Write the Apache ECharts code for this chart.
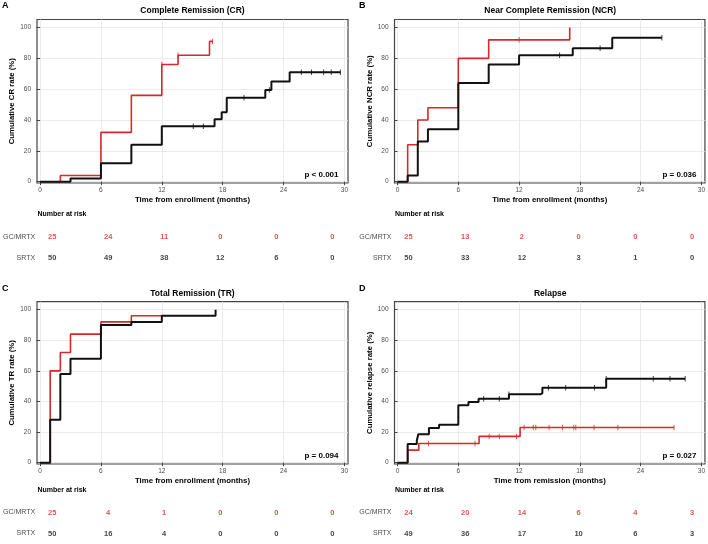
<!DOCTYPE html>
<html lang="en">
<head>
<meta charset="UTF-8">
<title>Cumulative remission / relapse</title>
<script src="https://cdn.jsdelivr.net/npm/echarts@6/dist/echarts.min.js"></script>
<style>
    * { margin: 0; padding: 0; }
    html, body { width: 708px; height: 544px; overflow: hidden; background: #fff; }
    #chart { width: 708px; height: 544px; }
</style>
</head>
<body>
<div id="chart"></div>
<script>
    const RED = '#d42a2a';
    const BLACK = '#111111';

    const xTicks = [0, 6, 12, 18, 24, 30];
    const yTicks = [0, 20, 40, 60, 80, 100];
    const groups = ['GC/MRTX', 'SRTX'];

    // A: complete remission, [months, %]
    const crRed = [[0, 0], [2, 4], [6, 32], [9, 56], [12, 76], [13.6, 82], [16.7, 91], [17, 91]];
    const crRedCens = [[12, 76], [13.6, 82], [17, 91]];
    const crBlack = [[0, 0], [3, 2], [6, 12], [9, 24], [12, 36], [17.2, 40.5], [17.9, 45], [18.4, 54.5],
        [22.2, 59.5], [22.8, 65], [24.6, 71], [29.6, 71]];
    const crBlackCens = [[15.1, 36], [16.1, 36], [20.1, 54.5], [22.6, 59.5], [25.75, 71], [26.75, 71],
        [27.95, 71], [28.7, 71], [29.6, 71]];
    const crRiskRed = [25, 24, 11, 0, 0, 0];
    const crRiskBlack = [50, 49, 38, 12, 6, 0];

    // B: near complete remission
    const ncrRed = [[0, 0], [1, 24], [2, 40], [3, 48], [6, 80], [9, 92], [17, 100]];
    const ncrRedCens = [[12, 92]];
    const ncrBlack = [[0, 0], [1, 4], [2, 26], [3, 34], [6, 64], [9, 76], [12, 82], [17.3, 86.5],
        [21.2, 93.3], [26.1, 93.3]];
    const ncrBlackCens = [[16, 82], [20, 86.5], [26.1, 93.3]];
    const ncrRiskRed = [25, 13, 2, 0, 0, 0];
    const ncrRiskBlack = [50, 33, 12, 3, 1, 0];

    // C: total remission
    const trRed = [[0, 0], [1, 60], [2, 72], [3, 84], [6, 92], [9, 96], [12, 96]];
    const trRedCens = [];
    const trBlack = [[0, 0], [1, 28], [2, 58], [3, 68], [6, 90], [9, 92], [12, 96], [17.3, 100]];
    const trBlackCens = [];
    const trRiskRed = [25, 4, 1, 0, 0, 0];
    const trRiskBlack = [50, 16, 4, 0, 0, 0];

    // D: relapse
    const relRed = [[0, 0], [1, 8.2], [2.1, 12.5], [8.05, 17.2], [12.1, 23], [27.3, 23]];
    const relRedCens = [[3.05, 12.5], [7.65, 12.5], [9.05, 17.2], [10.05, 17.2], [11.75, 17.2], [12.5, 23],
        [13.4, 23], [13.65, 23], [14.96, 23], [16.3, 23], [17.4, 23], [17.6, 23], [19.4, 23], [21.75, 23], [27.3, 23]];
    const relBlack = [[0, 0], [1, 12.2], [1.9, 14.3], [2.05, 18.6], [3.1, 22.7], [4.1, 24.8], [6, 37.5],
        [7, 39.7], [8, 41.8], [11, 44.7], [14.1, 45.5], [14.3, 49], [20.6, 54.8], [28.4, 54.8]];
    const relBlackCens = [[8.5, 41.8], [10.05, 41.8], [11, 44.7], [14.9, 49], [16.6, 49], [19.45, 49],
        [20.6, 54.8], [25.25, 54.8], [26.9, 54.8], [28.4, 54.8]];
    const relRiskRed = [24, 20, 14, 6, 4, 3];
    const relRiskBlack = [49, 36, 17, 10, 6, 3];

    const panels = [
        { letter: 'A', title: 'Complete Remission (CR)', yName: 'Cumulative CR rate (%)', xName: 'Time from enrollment (months)',
          p: 'p < 0.001', red: crRed, redCens: crRedCens, black: crBlack, blackCens: crBlackCens,
          riskRed: crRiskRed, riskBlack: crRiskBlack,
          left: 37, top: 19.5, width: 311, height: 163.5, tLeft: 51, tWidth: 281.3, tTop: 237, tHeight: 21.4, nameGap: 20 },
        { letter: 'B', title: 'Near Complete Remission (NCR)', yName: 'Cumulative NCR rate (%)', xName: 'Time from enrollment (months)',
          p: 'p = 0.036', red: ncrRed, redCens: ncrRedCens, black: ncrBlack, blackCens: ncrBlackCens,
          riskRed: ncrRiskRed, riskBlack: ncrRiskBlack,
          left: 394.5, top: 19.5, width: 311.5, height: 163.5, tLeft: 408.5, tWidth: 283.5, tTop: 237, tHeight: 21.4, nameGap: 19 },
        { letter: 'C', title: 'Total Remission (TR)', yName: 'Cumulative TR rate (%)', xName: 'Time from enrollment (months)',
          p: 'p = 0.094', red: trRed, redCens: trRedCens, black: trBlack, blackCens: trBlackCens,
          riskRed: trRiskRed, riskBlack: trRiskBlack,
          left: 37, top: 301.7, width: 311, height: 162.3, tLeft: 51, tWidth: 281.3, tTop: 512.5, tHeight: 21, nameGap: 20 },
        { letter: 'D', title: 'Relapse', yName: 'Cumulative relapse rate (%)', xName: 'Time from remission (months)',
          p: 'p = 0.027', red: relRed, redCens: relRedCens, black: relBlack, blackCens: relBlackCens,
          riskRed: relRiskRed, riskBlack: relRiskBlack,
          left: 394.5, top: 301.7, width: 311.5, height: 162.3, tLeft: 408.5, tWidth: 283.5, tTop: 512.5, tHeight: 21, nameGap: 19 }
    ];

    const font = 'Liberation Sans';
    let grid = [], xAxis = [], yAxis = [], series = [], graphic = [];

    function txt(text, x, y, size, align, color) {
        return {
            type: 'text', x: x, y: y, silent: true,
            style: {
                text: text, fill: color || '#000', font: 'bold ' + size + 'px "' + font + '"',
                align: align, textAlign: align, verticalAlign: 'middle', textVerticalAlign: 'middle'
            }
        };
    }

    panels.forEach((pn, i) => {
        let g = i * 2;
        // plot
        grid.push({ left: pn.left, top: pn.top, width: pn.width, height: pn.height,
            show: true, borderColor: '#444', borderWidth: 1.2, backgroundColor: '#fff' });
        xAxis.push({
            type: 'value', gridIndex: g, min: -0.3, max: 30.35,
            name: pn.xName, nameLocation: 'middle', nameGap: 13,
            nameTextStyle: { fontWeight: 'bold', fontSize: 7.8, color: '#000', fontFamily: font },
            axisLine: { show: false },
            axisTick: { show: true, length: 3.5, customValues: xTicks, lineStyle: { color: '#444', width: 1 } },
            axisLabel: { customValues: xTicks, margin: 3.5, fontSize: 6.5, color: '#4d4d4d', fontFamily: font },
            splitLine: { show: true, lineStyle: { color: '#e6e6e6', width: 0.8 } }
        });
        yAxis.push({
            type: 'value', gridIndex: g, min: -0.85, max: 105.2,
            name: pn.yName, nameLocation: 'middle', nameGap: pn.nameGap,
            nameTextStyle: { fontWeight: 'bold', fontSize: 7.8, color: '#000', fontFamily: font },
            axisLine: { show: false },
            axisTick: { show: true, length: 3.5, customValues: yTicks, lineStyle: { color: '#444', width: 1 } },
            axisLabel: { customValues: yTicks, margin: 6, fontSize: 6.5, color: '#4d4d4d', fontFamily: font },
            splitLine: { show: true, lineStyle: { color: '#e6e6e6', width: 0.8 } }
        });
        // risk table
        grid.push({ left: pn.tLeft, top: pn.tTop, width: pn.tWidth, height: pn.tHeight });
        xAxis.push({ type: 'value', gridIndex: g + 1, min: 0, max: 30, show: false });
        yAxis.push({
            type: 'category', gridIndex: g + 1, data: groups.slice().reverse(), boundaryGap: false,
            axisLine: { show: false }, axisTick: { show: false }, splitLine: { show: false },
            axisLabel: { margin: 17, fontSize: 7, color: '#4d4d4d', fontFamily: font }
        });

        series.push(
            { type: 'line', xAxisIndex: g, yAxisIndex: g, data: pn.red, step: 'end', showSymbol: false,
              lineStyle: { color: RED, width: 1.6 }, itemStyle: { color: RED }, silent: true, z: 2 },
            { type: 'scatter', xAxisIndex: g, yAxisIndex: g, data: pn.redCens, symbol: 'rect', symbolSize: [1, 5.5],
              itemStyle: { color: RED }, silent: true, z: 3 },
            { type: 'line', xAxisIndex: g, yAxisIndex: g, data: pn.black, step: 'end', showSymbol: false,
              lineStyle: { color: BLACK, width: 2 }, itemStyle: { color: BLACK }, silent: true, z: 4 },
            { type: 'scatter', xAxisIndex: g, yAxisIndex: g, data: pn.blackCens, symbol: 'rect', symbolSize: [1, 5.5],
              itemStyle: { color: BLACK }, silent: true, z: 5 },
            { type: 'scatter', xAxisIndex: g + 1, yAxisIndex: g + 1, symbolSize: 1,
              data: xTicks.map((t, k) => [t, groups[0], pn.riskRed[k]]),
              itemStyle: { color: 'transparent' }, silent: true,
              label: { show: true, position: 'inside', formatter: p => p.value[2], color: RED,
                       fontWeight: 'bold', fontSize: 7.5, fontFamily: font } },
            { type: 'scatter', xAxisIndex: g + 1, yAxisIndex: g + 1, symbolSize: 1,
              data: xTicks.map((t, k) => [t, groups[1], pn.riskBlack[k]]),
              itemStyle: { color: 'transparent' }, silent: true,
              label: { show: true, position: 'inside', formatter: p => p.value[2], color: BLACK,
                       fontWeight: 'bold', fontSize: 7.5, fontFamily: font } }
        );

        let right = pn.left + pn.width;
        let cx = pn.left + pn.width / 2;
        let bottom = pn.top + pn.height;
        graphic.push(
            txt(pn.letter, i % 2 ? 359 : 2, pn.top - 13.5, 9, 'left'),
            txt(pn.title, cx, pn.top - 8.5, 8.5, 'center'),
            txt(pn.p, right - 9.5, bottom - 8.5, 8, 'right'),
            txt('Number at risk', pn.left + 0.5, pn.tTop - 22.7, 7, 'left')
        );
    });

    let chart = echarts.init(document.getElementById('chart'));
    chart.setOption({
        animation: false,
        backgroundColor: '#fff',
        textStyle: { fontFamily: font },
        grid, xAxis, yAxis, series, graphic
    });
</script>
</body>
</html>
